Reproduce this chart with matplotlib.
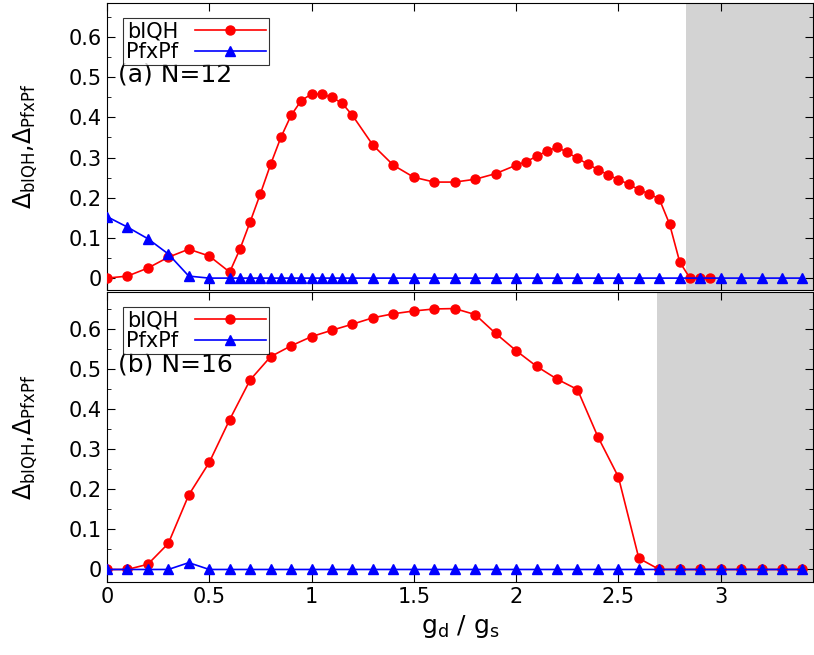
import matplotlib
matplotlib.use("Agg")
import matplotlib.pyplot as plt
from matplotlib.ticker import MultipleLocator

# Panel (a) N=12
xa_r = [0, 0.1, 0.2, 0.3, 0.4, 0.5, 0.6, 0.65, 0.7, 0.75, 0.8, 0.85, 0.9, 0.95, 1.0, 1.05, 1.1, 1.15,
        1.2, 1.3, 1.4, 1.5, 1.6, 1.7, 1.8, 1.9, 2.0, 2.05, 2.1, 2.15, 2.2, 2.25, 2.3, 2.35, 2.4, 2.45,
        2.5, 2.55, 2.6, 2.65, 2.7, 2.75, 2.8, 2.85, 2.9, 2.95]
ya_r = [0, 0.005, 0.025, 0.052, 0.072, 0.055, 0.015, 0.072, 0.14, 0.21, 0.283, 0.35, 0.405, 0.442,
        0.458, 0.458, 0.45, 0.435, 0.405, 0.331, 0.281, 0.251, 0.239, 0.239, 0.246, 0.26, 0.281,
        0.29, 0.303, 0.316, 0.326, 0.313, 0.298, 0.284, 0.27, 0.257, 0.245, 0.234, 0.22, 0.21,
        0.197, 0.135, 0.04, 0, 0, 0]
xa_b = [0, 0.1, 0.2, 0.3, 0.4, 0.5, 0.6, 0.65, 0.7, 0.75, 0.8, 0.85, 0.9, 0.95, 1.0, 1.05, 1.1, 1.15,
        1.2, 1.3, 1.4, 1.5, 1.6, 1.7, 1.8, 1.9, 2.0, 2.1, 2.2, 2.3, 2.4, 2.5, 2.6, 2.7, 2.8, 2.9,
        3.0, 3.1, 3.2, 3.3, 3.4]
ya_b = [0.153, 0.127, 0.098, 0.06, 0.005] + [0] * 36

# Panel (b) N=16
xb = [round(0.1 * i, 1) for i in range(35)]
yb_r = [0, 0, 0.013, 0.065, 0.186, 0.267, 0.374, 0.473, 0.531, 0.558, 0.581, 0.597, 0.612, 0.628,
        0.638, 0.645, 0.650, 0.651, 0.636, 0.589, 0.546, 0.507, 0.475, 0.449, 0.331, 0.231, 0.028,
        0, 0, 0, 0, 0, 0, 0, 0]
yb_b = [0, 0, 0, 0, 0.017] + [0] * 30

shade_a = 2.83
shade_b = 2.69
labels = ["(a) N=12", "(b) N=16"]

fig = plt.figure(figsize=(8.14, 6.55), dpi=100)
axa = fig.add_axes([0.1314, 0.557, 0.867, 0.438])
axb = fig.add_axes([0.1314, 0.111, 0.867, 0.443])

panels = [(axa, xa_r, ya_r, xa_b, ya_b, shade_a, (-0.03, 0.684), labels[0]),
          (axb, xb, yb_r, xb, yb_b, shade_b, (-0.032, 0.692), labels[1])]
for ax, xr, yr, xbl, ybl, sh, yl, lab in panels:
    ax.axvspan(sh, 3.45, color="#d3d3d3", lw=0, zorder=0)
    ax.plot(xr, yr, color="red", marker="o", ms=6.5, lw=1.2, label="bIQH", zorder=3)
    ax.plot(xbl, ybl, color="blue", marker="^", ms=7, lw=1.2, label="PfxPf", zorder=4)
    ax.set_xlim(0, 3.45)
    ax.set_ylim(*yl)
    ax.set_yticks([0, 0.1, 0.2, 0.3, 0.4, 0.5, 0.6])
    ax.set_yticklabels(["0", "0.1", "0.2", "0.3", "0.4", "0.5", "0.6"])
    ax.yaxis.set_minor_locator(MultipleLocator(0.05))
    ax.set_xticks([0, 0.5, 1, 1.5, 2, 2.5, 3])
    ax.tick_params(direction="in", top=True, right=True, labelsize=15, length=6)
    ax.tick_params(which="minor", direction="in", right=True, length=3)
    ax.set_ylabel(r"$\Delta_{\rm bIQH}$,$\Delta_{\rm PfxPf}$", fontsize=17)
    ax.yaxis.set_label_coords(-0.095, 0.5)
    leg = ax.legend(loc="upper left", fontsize=15, frameon=True, fancybox=False,
                    borderpad=0.15, handlelength=3.4, labelspacing=0.05,
                    bbox_to_anchor=(0.008, 0.985), markerfirst=False)
    leg.get_frame().set_edgecolor("black")
    leg.get_frame().set_linewidth(0.8)
    ax.text(0.016, 0.75, lab, transform=ax.transAxes, fontsize=18, va="center")

axa.tick_params(labelbottom=False)
axb.set_xticklabels(["0", "0.5", "1", "1.5", "2", "2.5", "3"])
axb.set_xlabel(r"$\mathrm{g_d}$ / $\mathrm{g_s}$", fontsize=18)

fig.savefig("out.png", dpi=100)
